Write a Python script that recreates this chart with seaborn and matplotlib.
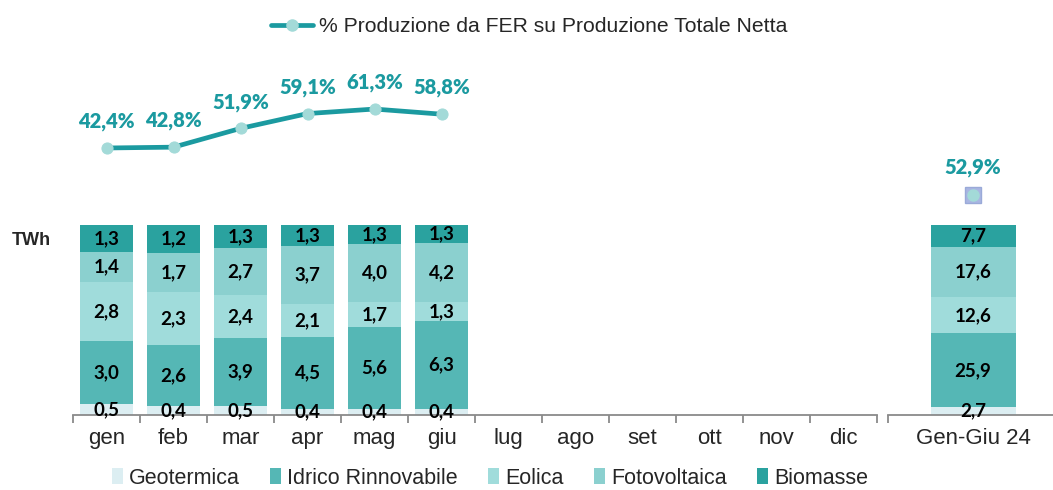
import pandas as pd
import numpy as np
import seaborn as sns
import matplotlib.pyplot as plt
from matplotlib.patches import Patch
from matplotlib.lines import Line2D

# dati (TWh) - mesi 2024
mesi = ['gen', 'feb', 'mar', 'apr', 'mag', 'giu', 'lug', 'ago', 'set', 'ott', 'nov', 'dic']
mesi_dati = ['gen', 'feb', 'mar', 'apr', 'mag', 'giu']
geotermica = [0.5, 0.4, 0.5, 0.4, 0.4, 0.4]
idrico = [3.0, 2.6, 3.9, 4.5, 5.6, 6.3]
eolica = [2.8, 2.3, 2.4, 2.1, 1.7, 1.3]
fotovoltaica = [1.4, 1.7, 2.7, 3.7, 4.0, 4.2]
biomasse = [1.3, 1.2, 1.3, 1.3, 1.3, 1.3]
quota_fer = [42.4, 42.8, 51.9, 59.1, 61.3, 58.8]

periodo = ['Gen-Giu 24']
tot_geotermica = [2.7]
tot_idrico = [25.9]
tot_eolica = [12.6]
tot_fotovoltaica = [17.6]
tot_biomasse = [7.7]
tot_quota_fer = [52.9]

fonti = ['Geotermica', 'Idrico Rinnovabile', 'Eolica', 'Fotovoltaica', 'Biomasse']
colori = ['#DCEEF2', '#55B7B5', '#A0DCDB', '#8BD0CF', '#2AA29F']
col_linea = '#1B9AA0'
col_marker = '#A3DAD8'

sns.set_style('white')
plt.rcParams['font.family'] = ['Liberation Sans', 'DejaVu Sans']
font_num = ['Lato', 'DejaVu Sans']

W, H = 1053, 490
fig = plt.figure(figsize=(W / 100, H / 100), dpi=100)


def fmt(v):
    return f"{v:.1f}".replace('.', ',')


def barre_impilate(ax, categorie, serie, ordine, larghezza):
    df = pd.DataFrame(dict(zip(fonti, serie)), index=categorie)
    quote = df.div(df.sum(axis=1), axis=0) * 100
    cum = quote.cumsum(axis=1)
    # disegno dal cumulato piu' alto al piu' basso, cosi' i segmenti si sovrappongono
    for i in range(len(fonti) - 1, -1, -1):
        d = pd.DataFrame({'cat': categorie, 'val': cum[fonti[i]].values})
        sns.barplot(data=d, x='cat', y='val', order=ordine, color=colori[i],
                    saturation=1, width=larghezza, errorbar=None, ax=ax,
                    linewidth=0, edgecolor='none')
    for j, c in enumerate(categorie):
        xpos = ordine.index(c)
        base = 0
        for f in fonti:
            h = quote.loc[c, f]
            ax.text(xpos, base + h / 2, fmt(df.loc[c, f]), ha='center', va='center',
                    fontsize=13.5, fontweight='bold', family=font_num, color='black')
            base += h
    ax.set_ylim(0, 100)
    ax.set_xlim(-0.5, len(ordine) - 0.5)
    ax.set_xlabel('')
    ax.set_ylabel('')
    ax.set_yticks([])
    for s in ['top', 'left', 'right']:
        ax.spines[s].set_visible(False)
    ax.spines['bottom'].set_color('#8a8a8a')
    ax.spines['bottom'].set_linewidth(1.3)
    ax.set_xticks(range(len(ordine)))
    ax.set_xticklabels(ordine, fontsize=16)
    ax.tick_params(axis='x', which='major', bottom=False, length=0, pad=9)
    ax.set_xticks(np.arange(-0.5, len(ordine) - 0.4, 1), minor=True)
    ax.tick_params(axis='x', which='minor', bottom=True, length=6, width=1.3,
                   color='#8a8a8a', direction='out')


# pannello mensile
ax1 = fig.add_axes([73 / W, 75 / H, 804 / W, 190 / H])
barre_impilate(ax1, mesi_dati, [geotermica, idrico, eolica, fotovoltaica, biomasse], mesi, 0.78)

# pannello cumulato
ax2 = fig.add_axes([888 / W, 75 / H, 170 / W, 190 / H])
barre_impilate(ax2, periodo, [tot_geotermica, tot_idrico, tot_eolica, tot_fotovoltaica, tot_biomasse],
               periodo, 0.5)
ax2.set_xticks([-0.5], minor=True)

# linea % FER
axl = fig.add_axes([73 / W, 270 / H, 804 / W, 160 / H])
sns.lineplot(x=np.arange(len(quota_fer)), y=quota_fer, color=col_linea, lw=3.4,
             marker='o', markersize=8, markerfacecolor=col_marker, markeredgecolor=col_marker, ax=axl)
for i, q in enumerate(quota_fer):
    axl.annotate(fmt(q) + '%', (i, q), xytext=(0, 19), textcoords='offset points',
                 ha='center', va='center', fontsize=14.5, fontweight='heavy',
                 family=font_num, color=col_linea)
axl.set_xlim(-0.5, len(mesi) - 0.5)
axl.set_ylim(7.45, 85.1)
axl.axis('off')

axr = fig.add_axes([888 / W, 270 / H, 170 / W, 160 / H])
axr.plot([0], tot_quota_fer, marker='s', markersize=12, color='#A9B6E2', mec='#9AAAD8', ls='none')
axr.plot([0], tot_quota_fer, marker='o', markersize=8, color=col_marker, mec=col_marker, ls='none')
axr.annotate(fmt(tot_quota_fer[0]) + '%', (0, tot_quota_fer[0]), xytext=(0, 20),
             textcoords='offset points', ha='center', va='center', fontsize=14.5,
             fontweight='heavy', family=font_num, color=col_linea)
axr.set_xlim(-0.5, 0.5)
axr.set_ylim(40, 122.6)
axr.axis('off')

fig.text(12 / W, 1 - 240 / H, 'TWh', fontsize=13, fontweight='bold', va='center')

# legende
h_linea = [Line2D([], [], color=col_linea, lw=3.4, marker='o', markersize=8,
                  markerfacecolor=col_marker, markeredgecolor=col_marker)]
fig.legend(h_linea, ['% Produzione da FER su Produzione Totale Netta'], loc='center',
           bbox_to_anchor=(529 / W, 1 - 27 / H), frameon=False, fontsize=15.2,
           handlelength=2.0, handletextpad=0.25)

h_fonti = [Patch(facecolor=c, edgecolor='none') for c in colori]
fig.legend(h_fonti, fonti, loc='center', ncol=5, bbox_to_anchor=(490 / W, 1 - 478 / H),
           frameon=False, fontsize=15.5, handlelength=0.5, handleheight=0.75,
           handletextpad=0.3, columnspacing=1.4)

fig.savefig('out.png', dpi=100)
